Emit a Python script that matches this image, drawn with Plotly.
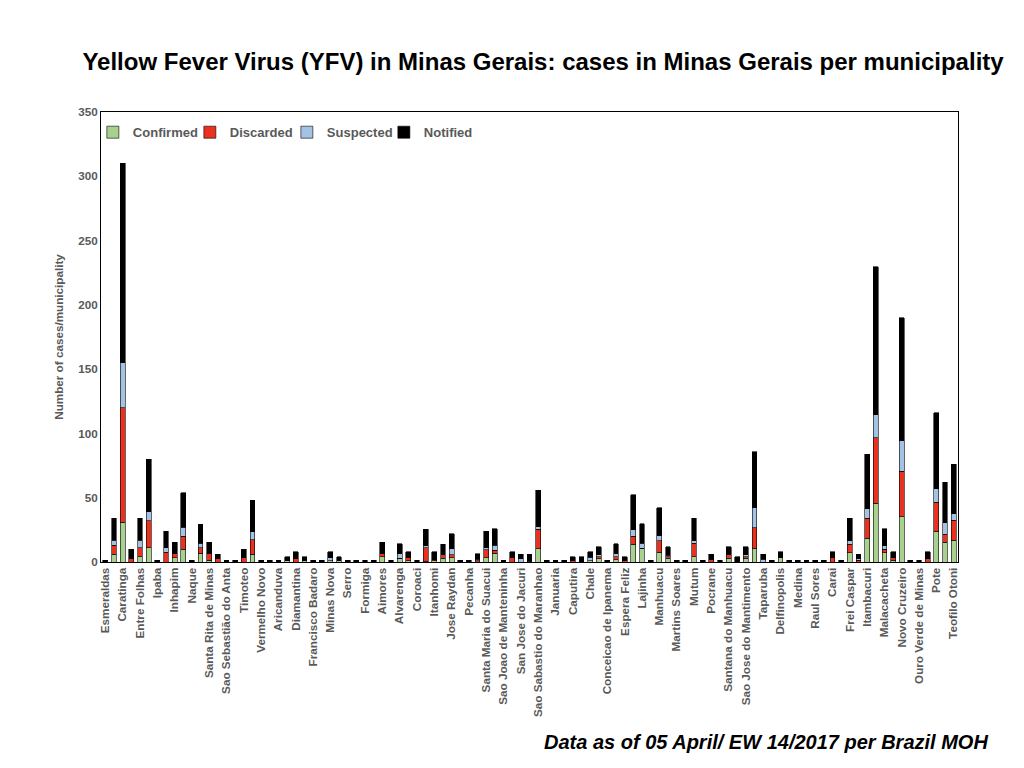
import plotly.graph_objects as go

# municipality labels (only every other bar is labelled in the source chart)
labels = [
    "Esmeraldas", "Caratinga", "Entre Folhas", "Ipaba", "Inhapim", "Naque",
    "Santa Rita de Minas", "Sao Sebastião do Anta", "Timoteo", "Vermelho Novo",
    "Aricanduva", "Diamantina", "Francisco Badaro", "Minas Nova", "Serro",
    "Formiga", "Aimores", "Alvarenga", "Coroaci", "Itanhomi", "Jose Raydan",
    "Pecanha", "Santa Maria do Suacui", "Sao Joao de Manteninha",
    "San Jose do Jacuri", "Sao Sabastio do Maranhao", "Januaria", "Caputira",
    "Chale", "Conceicao de Ipanema", "Espera Feliz", "Lajinha", "Manhuacu",
    "Martins Soares", "Mutum", "Pocrane", "Santana do Manhuacu",
    "Sao Jose do Mantimento", "Taparuba", "Delfinopolis", "Medina",
    "Raul Sores", "Carai", "Frei Caspar", "Itambacuri", "Malacacheta",
    "Novo Cruzeiro", "Ouro Verde de Minas", "Pote", "Teofilo Otoni",
]

confirmed = [
    0, 6, 31, 0, 4, 11, 0, 0, 3.5, 10,
    0, 7, 1.3, 0, 0, 0, 0, 6, 0, 0,
    0, 1.3, 0, 1, 0, 0, 1, 1, 0, 0,
    0, 0, 4, 0, 3, 0.8, 0, 0.5, 1, 3,
    3.4, 0, 0, 0, 3.4, 6.7, 0, 0, 0, 0.5,
    10.4, 0, 0, 0, 0, 0, 1, 2.6, 0, 1.6,
    0, 13.7, 10.6, 0, 7.5, 2.9, 0, 0, 4, 0,
    0, 0, 2.9, 0, 2.9, 10.6, 0, 0, 3.4, 0,
    0, 0, 0, 0, 0, 0, 7.3, 0, 18.4, 45.6,
    7.3, 1.3, 35.3, 0, 0, 0, 24, 15.3, 16.9,
]
discarded = [
    0, 7, 89, 3, 7, 21, 0, 7.5, 3, 10,
    0, 4, 5.2, 3, 0, 0, 3.4, 11.4, 0, 0,
    0, 0, 3, 0, 0, 0, 0, 0, 0, 0,
    0, 0, 3, 0, 0, 2.6, 0, 10.6, 1.3, 3,
    2.3, 0, 0, 1, 6.2, 2.6, 0, 3.4, 0, 1,
    15, 0, 0, 0, 1, 0, 0, 1.3, 0, 2.5,
    0.8, 6.3, 0, 0, 8.9, 1.2, 0, 0, 10.4, 0,
    2, 0, 3.1, 0, 1.2, 16.1, 0, 0, 0, 0,
    0, 0, 0, 0, 3.4, 0, 6.4, 1.3, 15.6, 51,
    2.6, 2.1, 35.3, 0, 0, 2.9, 22.5, 6.2, 15.5,
]
suspected = [
    0, 4, 35, 0, 6, 7, 0, 3.5, 0, 7,
    0, 3.5, 0, 0, 0, 0, 0, 6.2, 0, 0,
    0, 0, 0, 0, 0, 0, 2.4, 0, 0, 0,
    0, 0, 0, 0, 3.6, 0, 0, 1.5, 0, 0,
    4.7, 0, 0, 1.3, 1.5, 3.7, 0, 0, 2.6, 0,
    2.1, 0, 0, 0, 0, 0, 2.6, 1.8, 0, 2.4,
    0, 5.2, 3.9, 0, 4, 1.3, 0, 0, 2.1, 0,
    0, 0, 0, 0, 1.6, 15.6, 2, 0, 0, 0,
    0, 0, 0, 0, 0, 0, 2.9, 1.3, 7.5, 18,
    2.8, 0, 23.8, 0, 0, 0, 10.6, 9.1, 5.2,
]
notified = [
    1.5, 17, 155, 7, 17, 41, 1.5, 13, 9, 27,
    1.5, 15, 9, 3, 1.5, 1.5, 6.6, 24.4, 1.5, 1.5,
    1.5, 2.6, 4.8, 3, 1.5, 1.5, 4.4, 3, 1.5, 1.5,
    1.5, 1.5, 8.5, 1.5, 7.5, 4.4, 1.5, 13, 5.5, 8,
    11.4, 1.5, 1.5, 4.2, 13, 12.7, 1.5, 4.4, 3.6, 4.7,
    28.5, 1.5, 1.5, 1.5, 3, 3.9, 4.2, 6, 1.5, 7.8,
    3.1, 27, 15.3, 1.5, 21.8, 6.3, 1.5, 1.5, 17.6, 1.5,
    4, 1.5, 5.7, 3.9, 6, 43.3, 4, 1.5, 4.4, 1.5,
    1.5, 1.5, 1.5, 1.5, 4.4, 1.5, 17.6, 3.6, 42.5, 115,
    13, 4.4, 95.6, 1.5, 1.5, 4.9, 59, 31.6, 38.6,
]

y_ticks = [0, 50, 100, 150, 200, 250, 300, 350]

x = list(range(len(notified)))
gray = "#595959"
font_family = "Liberation Sans, Arial, sans-serif"

series = [
    ("Confirmed", confirmed, "#a9d18e"),
    ("Discarded", discarded, "#e8321f"),
    ("Suspected", suspected, "#a4c2e4"),
    ("Notified", notified, "#000000"),
]

fig = go.Figure()
for name, vals, color in series:
    fig.add_trace(go.Bar(
        x=x, y=vals, name=name, width=0.56,
        marker=dict(color=color, line=dict(color="black", width=0.6)),
    ))

# page body has an 8px margin, so the figure is sized to fit the window
fig.update_layout(
    width=1016, height=760,
    barmode="stack",
    template="plotly_white",
    plot_bgcolor="white", paper_bgcolor="white",
    font=dict(family=font_family, color=gray, size=11.7),
    margin=dict(l=93, r=66, t=104, b=206),
    title=dict(
        text="Yellow Fever Virus (YFV) in Minas Gerais: cases in Minas Gerais per municipality",
        x=0.5266, xanchor="center", y=0.929, yanchor="middle",
        font=dict(family=font_family, size=24, color="black", weight="bold"),
    ),
    legend=dict(
        orientation="h", x=-0.0095, y=0.955, xanchor="left", yanchor="middle",
        font=dict(size=13, color=gray, weight="bold"),
        itemwidth=30, entrywidth=52, bgcolor="rgba(0,0,0,0)", traceorder="normal",
    ),
    showlegend=True,
)

fig.update_xaxes(
    range=[-0.5, len(notified) - 0.5],
    tickmode="array",
    tickvals=x[::2], ticktext=labels,
    tickangle=-90,
    tickfont=dict(size=11.7, color=gray, weight="bold"),
    showgrid=False, zeroline=False,
    showline=True, linecolor="black", linewidth=1, mirror=True,
    ticks="",
)
fig.update_yaxes(
    range=[0, 350],
    tickmode="array", tickvals=y_ticks,
    tickfont=dict(size=11.7, color=gray, weight="bold"),
    title=dict(text="Number of cases/municipality",
               font=dict(size=11.7, color=gray, weight="bold"), standoff=12),
    showgrid=False, zeroline=False,
    showline=True, linecolor="black", linewidth=1, mirror=True,
    ticks="",
)

fig.add_annotation(
    text="<b><i>Data as of 05 April/ EW 14/2017 per Brazil MOH</i></b>",
    xref="paper", yref="paper", x=1.037, y=-0.40,
    xanchor="right", yanchor="middle", showarrow=False,
    font=dict(family=font_family, size=20, color="black"),
)

fig.write_html("out.html")
